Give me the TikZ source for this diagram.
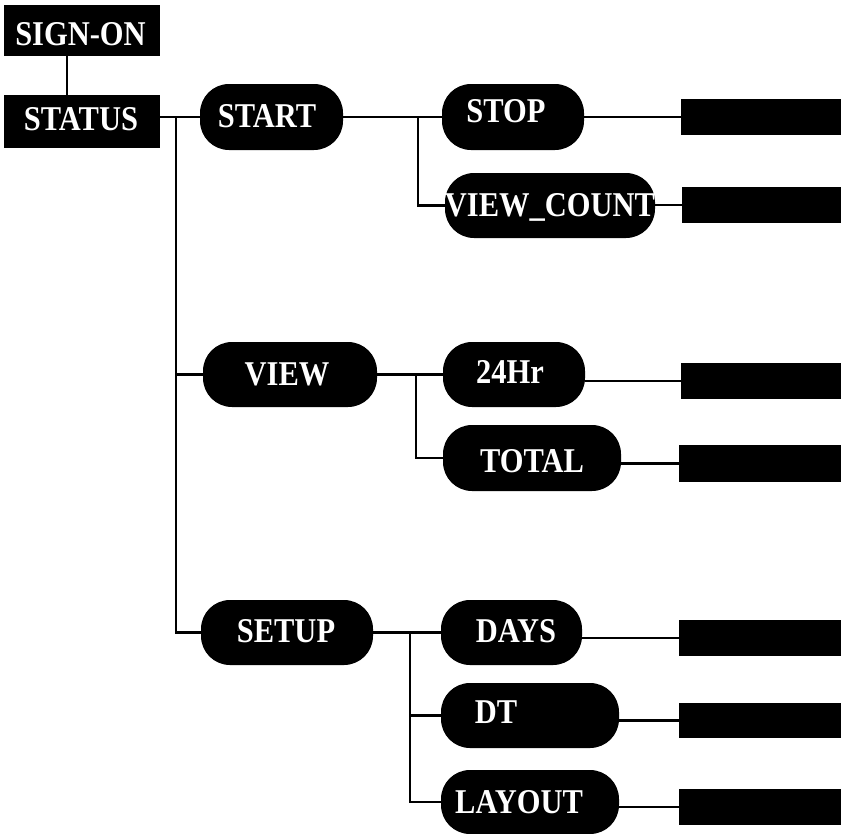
\documentclass[tikz,border=0pt]{standalone}
\usepackage{fontspec}
\setmainfont{Liberation Serif}
\newcommand{\tallbx}[1]{\scalebox{1}[1.14]{#1}}
\begin{document}
\begin{tikzpicture}[x=1pt,y=-1pt,
  sqbox/.style={fill=black, draw=none, inner sep=0pt, rectangle},
  pill/.style={fill=black, draw=none, inner sep=0pt, rectangle, rounded corners=29pt},
  lbl/.style={text=white, font=\fontsize{30.5}{30.5}\selectfont\bfseries, anchor=base, inner sep=0pt},
  conn/.style={draw=black, line width=2.1pt}]
\useasboundingbox (0,0) rectangle (842,833);
% square boxes
\node[sqbox, minimum width=156pt, minimum height=51pt] (signon) at (82,30.5) {};
\node[sqbox, minimum width=156pt, minimum height=53pt] (status) at (82,121.5) {};
% pills
\node[pill, minimum width=143pt, minimum height=66pt] (start) at (271.5,117) {};
\node[pill, minimum width=142pt, minimum height=66pt] (stop) at (513,117) {};
\node[pill, minimum width=210pt, minimum height=65pt] (vc) at (550,205.5) {};
\node[pill, minimum width=174pt, minimum height=65pt] (view) at (290,374.5) {};
\node[pill, minimum width=142pt, minimum height=65pt] (h24) at (514,374.5) {};
\node[pill, minimum width=178pt, minimum height=66pt] (total) at (532,458) {};
\node[pill, minimum width=172pt, minimum height=65pt] (setup) at (287,632.5) {};
\node[pill, minimum width=141pt, minimum height=65pt] (days) at (511.5,632.5) {};
\node[pill, minimum width=178pt, minimum height=65pt] (dt) at (530,715.5) {};
\node[pill, minimum width=178pt, minimum height=64pt] (layout) at (530,802) {};
% right blank boxes
\node[sqbox, minimum width=160pt, minimum height=36pt] (r1) at (761,117) {};
\node[sqbox, minimum width=159pt, minimum height=36pt] (r2) at (761.5,205) {};
\node[sqbox, minimum width=160pt, minimum height=36pt] (r3) at (761,381) {};
\node[sqbox, minimum width=162pt, minimum height=37pt] (r4) at (760,463.5) {};
\node[sqbox, minimum width=162pt, minimum height=36pt] (r5) at (760,638) {};
\node[sqbox, minimum width=162pt, minimum height=35pt] (r6) at (760,720.5) {};
\node[sqbox, minimum width=162pt, minimum height=36pt] (r7) at (760,807) {};
% labels
\node[lbl] (tsignon) at (80.5,45) {\tallbx{SIGN-ON}};
\node[lbl] (tstatus) at (81,130) {\tallbx{STATUS}};
\node[lbl] (tstart) at (267,127) {\tallbx{START}};
\node[lbl] (tstop) at (506,122) {\tallbx{STOP}};
\node[lbl] (tvc) at (550,216) {\tallbx{VIEW\_COUNT}};
\node[lbl] (tview) at (287,385) {\tallbx{VIEW}};
\node[lbl] (th24) at (510,383) {\tallbx{24Hr}};
\node[lbl] (ttotal) at (532,472) {\tallbx{TOTAL}};
\node[lbl] (tsetup) at (286,642) {\tallbx{SETUP}};
\node[lbl] (tdays) at (516,642) {\tallbx{DAYS}};
\node[lbl] (tdt) at (496,723) {\tallbx{DT}};
\node[lbl] (tlayout) at (519,813) {\tallbx{LAYOUT}};
% trunk coordinates
\coordinate (j0) at (67,0);
\coordinate (t1) at (176,0);
\coordinate (t2) at (418,0);
\coordinate (t3) at (416,0);
\coordinate (t4) at (410,0);
% connectors
\draw[conn] (signon.south -| j0) -- (status.north -| j0);
\draw[conn] (status.east |- start) -- (start.west);
\draw[conn] (t1 |- start) -- (t1 |- setup) -- (setup.west);
\draw[conn] (t1 |- view) -- (view.west);
\draw[conn] (start.east) -- (stop.west);
\draw[conn] (t2 |- start) -- (t2 |- vc) -- (vc.west);
\draw[conn] (view.east) -- (h24.west);
\draw[conn] (t3 |- view) -- (t3 |- total) -- (total.west);
\draw[conn] (setup.east) -- (days.west);
\draw[conn] (t4 |- setup) -- (t4 |- layout) -- (layout.west);
\draw[conn] (t4 |- dt) -- (dt.west);
\draw[conn] (stop.east |- r1) -- (r1.west);
\draw[conn] (vc.east |- r2) -- (r2.west);
\draw[conn] (h24.east |- r3) -- (r3.west);
\draw[conn] (total.east |- r4) -- (r4.west);
\draw[conn] (days.east |- r5) -- (r5.west);
\draw[conn] (dt.east |- r6) -- (r6.west);
\draw[conn] (layout.east |- r7) -- (r7.west);
\end{tikzpicture}
\end{document}
